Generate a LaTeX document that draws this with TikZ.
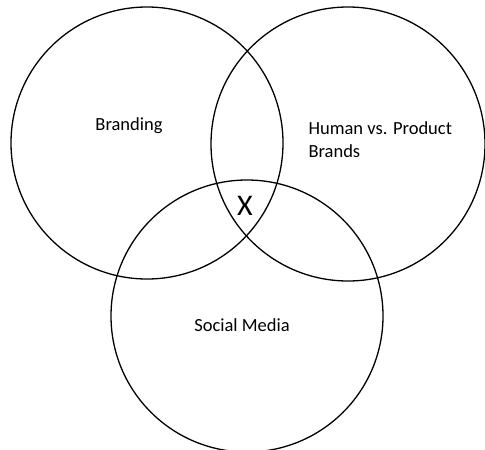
\documentclass[tikz,border=0pt]{standalone}
\usepackage{fontspec}
\setmainfont{Carlito}
\usetikzlibrary{calc}

\begin{document}
\begin{tikzpicture}[x=1pt,y=-1pt,
  label text/.style={font=\fontsize{18.5}{23}\selectfont},
  ring/.style={line width=1.3pt}]

% 画布大小
\useasboundingbox (0,0) rectangle (485,450);

% 定义三个圆心
\coordinate (L) at (147,143);
\coordinate (R) at (348,144);
\coordinate (S) at (247,316);

% 绘制三个圆
\draw[ring] (L) circle (136pt);
\draw[ring] (R) circle (137pt);
\draw[ring] (S) circle (136pt);

% 添加标签
\node[label text] (brand) at (129,126) {Branding};
\node[label text, anchor=west, align=left] (human) at (305,139.5) {Human vs. Product\\Brands};
\node[label text] (social) at (242,325) {Social Media};

% 交集标记
\node[font=\fontsize{30}{30}\selectfont] (Int) at (245,206) {X};

\end{tikzpicture}
\end{document}
